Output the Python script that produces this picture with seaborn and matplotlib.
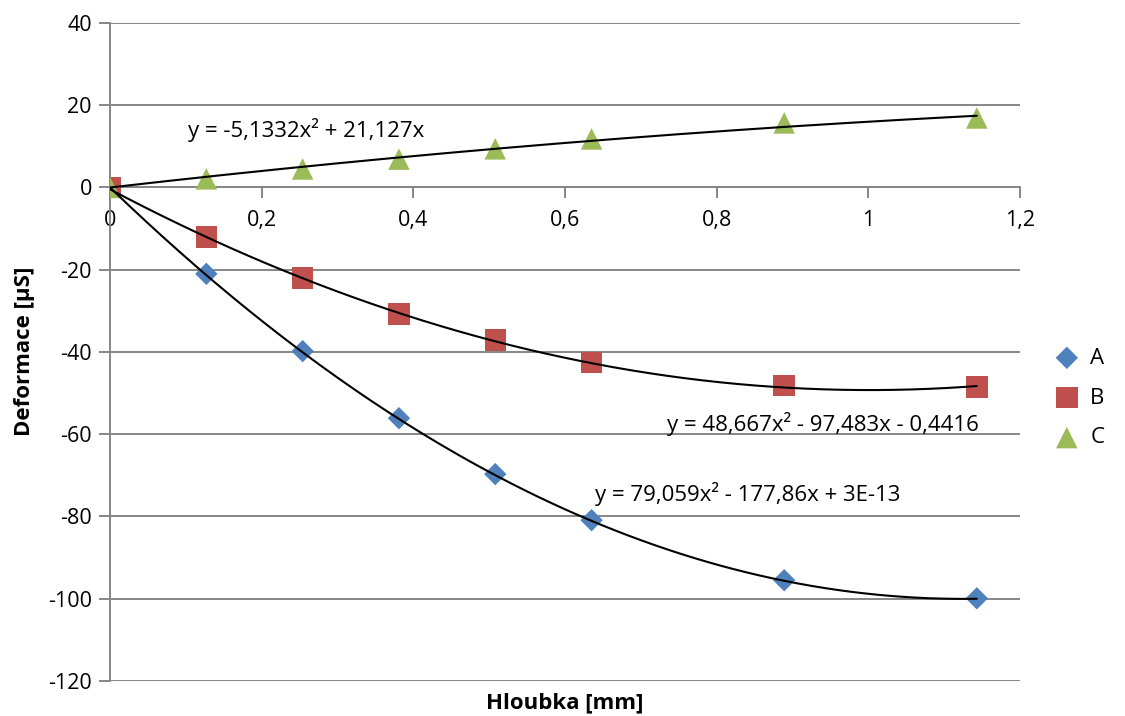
import numpy as np
import pandas as pd
import matplotlib
matplotlib.use("Agg")
import matplotlib.pyplot as plt
import seaborn as sns

# ---- data ----
depth = [0, 0.127, 0.254, 0.381, 0.508, 0.635, 0.889, 1.143]
series_a = [0, -21.0, -39.8, -56.1, -69.7, -80.9, -95.5, -99.9]
series_b = [0, -12.0, -22.0, -30.8, -37.1, -42.5, -48.1, -48.5]
series_c = [0, 2.1, 4.5, 6.9, 9.4, 11.8, 15.7, 16.9]
series_names = ["A", "B", "C"]
# trendline coefficients (a, b, c) for y = a x^2 + b x + c
coef_a = [79.059, -177.86, 3e-13]
coef_b = [48.667, -97.483, -0.4416]
coef_c = [-5.1332, 21.127, 0.0]
eq_a = "y = 79,059x² - 177,86x + 3E-13"
eq_b = "y = 48,667x² - 97,483x - 0,4416"
eq_c = "y = -5,1332x² + 21,127x"
x_ticks = [0, 0.2, 0.4, 0.6, 0.8, 1.0, 1.2]
x_tick_labels = ["0", "0,2", "0,4", "0,6", "0,8", "1", "1,2"]
y_ticks = [-120, -100, -80, -60, -40, -20, 0, 20, 40]

sns.set_style("white")
plt.rcParams['font.family'] = ['Open Sans', 'DejaVu Sans']
plt.rcParams['text.color'] = 'black'
plt.rcParams['xtick.labelcolor'] = 'black'
plt.rcParams['ytick.labelcolor'] = 'black'

df = pd.DataFrame({
    "x": depth * 3,
    "y": series_a + series_b + series_c,
    "s": ["A"] * len(depth) + ["B"] * len(depth) + ["C"] * len(depth),
})

colors = {"A": "#4F81BD", "B": "#C0504D", "C": "#9BBB59"}
markers = {"A": "D", "B": "s", "C": "^"}
sizes = {"A": 130, "B": 240, "C": 240}

fig = plt.figure(figsize=(11.25, 7.16), dpi=100)
ax = fig.add_axes([0.0978, 0.0489, 0.9067 - 0.0978, 0.9679 - 0.0489])

grid_c = "#868686"
for yv in y_ticks:
    ax.axhline(yv, color=grid_c, lw=1.4, zorder=0)

for name in series_names:
    sub = df[df.s == name]
    sns.scatterplot(data=sub, x="x", y="y", color=colors[name], marker=markers[name],
                    s=sizes[name], edgecolor="none", ax=ax, label=name, zorder=3)

xs = np.linspace(0, depth[-1], 200)
for cf in (coef_a, coef_b, coef_c):
    ax.plot(xs, np.polyval(cf, xs), color="black", lw=1.5, zorder=4)

ax.set_xlim(0, 1.2)
ax.set_ylim(-120, 40)
ax.set_yticks(y_ticks)
ax.set_yticklabels([str(v) for v in y_ticks])
ax.set_xticks(x_ticks)
ax.set_xticklabels(x_tick_labels)

ax.spines["left"].set_position(("data", 0))
ax.spines["bottom"].set_position(("data", 0))
ax.spines["right"].set_visible(False)
ax.spines["top"].set_visible(False)
for sp in ("left", "bottom"):
    ax.spines[sp].set_color(grid_c)
    ax.spines[sp].set_linewidth(1.4)
fs = 15.5
ax.tick_params(axis="y", direction="out", length=8, width=1.4, color=grid_c,
               labelsize=fs, pad=5, left=True, labelcolor="black")
ax.tick_params(axis="x", direction="out", length=8, width=1.4, color=grid_c,
               labelsize=fs, pad=8, bottom=True, labelcolor="black")

ax.set_xlabel("")
ax.set_ylabel("")
fig.text(0.502, 0.018, "Hloubka [mm]", ha="center", va="center", fontsize=16,
         fontweight="bold", color="black")
fig.text(0.022, 0.51, "Deformace [µS]", ha="center", va="center", rotation=90,
         fontsize=16, fontweight="bold", color="black")

ax.text(0.103, 14, eq_c, fontsize=16, ha="left", va="center", zorder=5, color="black")
ax.text(0.735, -57.5, eq_b, fontsize=16, ha="left", va="center", zorder=5, color="black")
ax.text(0.64, -74.5, eq_a, fontsize=16, ha="left", va="center", zorder=5, color="black")

leg = ax.legend(loc="center left", bbox_to_anchor=(1.005, 0.43), frameon=False,
                fontsize=16, handletextpad=0.05, labelspacing=0.85, markerscale=1.0)
for t in leg.get_texts():
    t.set_color("black")

fig.savefig("out.png", dpi=100)
